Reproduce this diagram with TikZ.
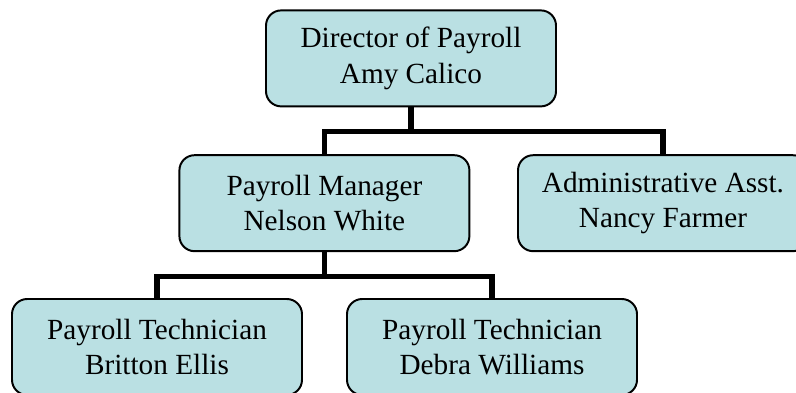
\documentclass[tikz,border=0pt]{standalone}
\usepackage{fontspec}
\setmainfont{Liberation Serif}
\usepackage{xcolor}
\usetikzlibrary{positioning}
\definecolor{boxfill}{RGB}{186,224,227}

\begin{document}
\begin{tikzpicture}
        [person/.style={rectangle,rounded corners=0.38cm,draw=black,line width=1.4pt,fill=boxfill,
                        minimum width=7.25cm,minimum height=2.4cm,align=center,
                        font=\fontsize{20.8}{25}\selectfont},
        link/.style={-,draw=black,line width=3.6pt}]

\clip (0,0) rectangle (19.9,-9.825);

% people
\node[person] at (10.275,-1.46) (director) {Director of Payroll\\Amy Calico};

\node[person] at (8.11,-5.08) (manager) {Payroll Manager\\Nelson White};

\node[person] at (16.575,-5.08) (asst) {Administrative Asst.\\Nancy Farmer};

\node[person] at (3.925,-8.675) (techone) {Payroll Technician\\Britton Ellis};

\node[person] at (12.3,-8.675) (techtwo) {Payroll Technician\\Debra Williams};


%links
\draw[link] (director.south) -- ++(0,-0.6) -| (manager.north);
\draw[link] (director.south) -- ++(0,-0.6) -| (asst.north);
\draw[link] (manager.south) -- ++(0,-0.6) -| (techone.north);
\draw[link] (manager.south) -- ++(0,-0.6) -| (techtwo.north);

\end{tikzpicture}
\end{document}
